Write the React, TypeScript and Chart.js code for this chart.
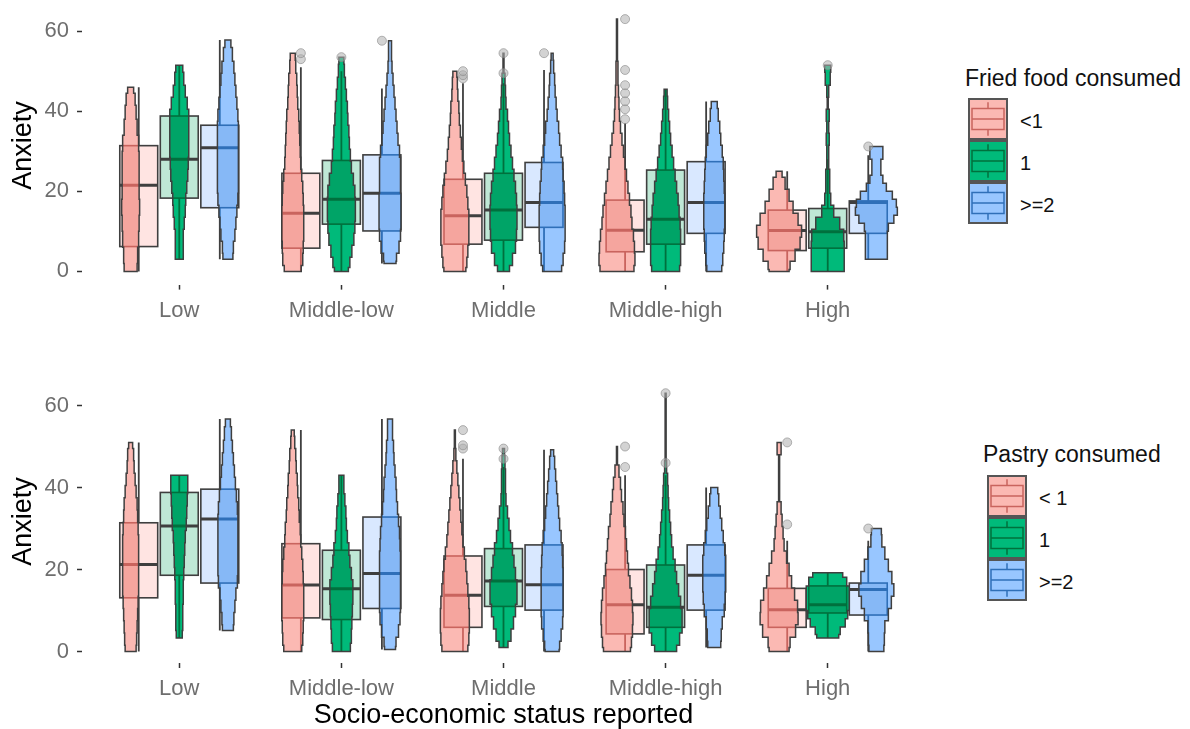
import React, { useEffect, useRef } from 'react';
import { Chart, registerables } from 'chart.js';
Chart.register(...registerables);

const FONT = '"Liberation Sans", Arial, sans-serif';
const TICK_COLOR = '#6e6e6e';
const EDGE = '#3f3f3f';

const categories = ['Low', 'Middle-low', 'Middle', 'Middle-high', 'High'];
const anxietyTicks = [0, 20, 40, 60];
const friedLevels = ['<1', '1', '>=2'];
const pastryLevels = ['< 1', '1', '>=2'];

// Box statistics per category: [lower whisker, Q1, median, Q3, upper whisker]
// Violins per category: [anxiety, density width]

// ---- Fried food consumed ----
const friedLt1Box = [
  [0, 6.2, 21.5, 31.4, 46],
  [0, 5.8, 14.5, 24.5, 51],
  [0, 6.8, 13.9, 23, 47],
  [0, 4.9, 10.3, 17.8, 37],
  [0, 5.2, 10.2, 15.3, 25],
];
const friedLt1Outliers = [[], [53, 54.5], [48.2, 49, 50], [38, 40.5, 42.5, 44.5, 46.5, 50.3, 63], []];
const friedLt1Violin = [
  [[0, 13], [4, 14], [8, 16], [12, 17], [16, 18], [20, 17], [24, 17], [28, 17], [32, 16], [36, 13], [40, 11], [43, 9], [46, 6]],
  [[0, 17], [3, 20], [6, 21], [9, 22], [12, 22], [15, 22], [18, 21], [21, 20], [24, 18], [27, 16], [30, 15], [33, 14], [36, 13], [39, 12], [42, 10], [45, 9], [48, 8], [51, 6], [54.5, 5]],
  [[0, 22], [2, 24], [5, 26], [8, 28], [11, 28], [14, 28], [17, 26], [20, 24], [23, 21], [26, 18], [29, 15], [32, 13], [35, 11], [38, 9], [41, 8], [44, 6], [47, 5], [50, 4]],
  [[0, 34], [3, 36], [6, 35], [9, 33], [12, 30], [15, 28], [18, 25], [21, 22], [24, 19], [27, 16], [30, 13], [33, 10], [36, 7], [39, 5], [42, 4], [45, 3], [48, 2], [51, 2], [54, 1], [57, 1], [60, 1], [63, 1]],
  [[0, 20], [1, 22], [4, 32], [7, 42], [10, 45], [13, 38], [16, 28], [19, 20], [22, 12], [25, 6]],
];

const friedOneBox = [
  [3, 18.3, 28, 38.8, 51.5],
  [0, 11.8, 18, 27.7, 50],
  [0, 7.8, 15.3, 24.5, 47],
  [0, 6.8, 13, 25.3, 45.5],
  [0, 5.8, 9.9, 15.7, 28],
];
const friedOneOutliers = [[], [53.5], [49.5, 54.5], [], [51.5]];
const friedOneViolin = [
  [[3, 8], [6, 8], [9, 8], [12, 10], [15, 12], [18, 13], [21, 15], [24, 17], [27, 18], [30, 19], [33, 19], [36, 19], [39, 19], [42, 16], [45, 12], [48, 9], [51.5, 7]],
  [[0, 14], [2, 17], [5, 21], [8, 25], [11, 27], [14, 28], [17, 28], [20, 27], [23, 24], [26, 20], [29, 18], [32, 16], [35, 15], [38, 13], [41, 12], [44, 10], [47, 8], [50, 6], [53.5, 5]],
  [[0, 12], [3, 18], [6, 24], [9, 26], [12, 27], [15, 27], [18, 26], [21, 24], [24, 21], [27, 18], [30, 15], [33, 12], [36, 10], [39, 8], [42, 5], [45, 4], [48, 3], [51, 1], [54.5, 1]],
  [[0, 28], [3, 30], [6, 30], [9, 30], [12, 29], [15, 27], [18, 25], [21, 22], [24, 19], [27, 16], [30, 13], [33, 10], [36, 8], [39, 6], [42, 4], [45.5, 3]],
  [[0, 33], [3, 33], [6, 33], [9, 32], [12, 24], [15, 12], [18, 6], [21, 4], [24, 4], [27, 2], [30, 2], [33, 3], [36, 2], [39, 3], [42, 1], [45, 2], [48, 5], [51.5, 6]],
];

const friedGe2Box = [
  [3, 15.9, 30.9, 36.5, 57.8],
  [2, 10.1, 19.5, 29.1, 45.7],
  [0, 11, 17.2, 27.2, 50.3],
  [0, 9.5, 17.2, 27.4, 42.4],
  [3, 9.5, 17.2, 17.6, 29],
];
const friedGe2Outliers = [[], [57.6], [54.5], [], [31.2]];
const friedGe2Violin = [
  [[3, 10], [6, 11], [9, 14], [12, 16], [15, 18], [18, 20], [21, 21], [24, 21], [27, 21], [30, 21], [33, 21], [36, 21], [39, 20], [42, 18], [45, 16], [48, 14], [51, 12], [54, 9], [57.8, 6]],
  [[2, 12], [3, 13], [6, 18], [9, 21], [12, 22], [15, 22], [18, 22], [21, 21], [24, 21], [27, 21], [30, 19], [33, 16], [36, 14], [39, 12], [42, 10], [45, 8], [48, 6], [51, 4], [54, 3], [57.6, 3]],
  [[0, 19], [3, 22], [6, 25], [9, 26], [12, 26], [15, 26], [18, 25], [21, 24], [24, 22], [27, 21], [30, 18], [33, 15], [36, 13], [39, 10], [42, 8], [45, 6], [48, 5], [51, 3], [54.5, 2]],
  [[0, 15], [3, 17], [6, 19], [9, 20], [12, 21], [15, 21], [18, 21], [21, 20], [24, 19], [27, 18], [30, 16], [33, 13], [36, 11], [39, 8], [42.4, 6]],
  [[3, 22], [5, 22], [7, 22], [9, 22], [11, 24], [13, 35], [15, 42], [17, 40], [19, 32], [21, 20], [23, 13], [25, 9], [27, 9], [29, 13], [31.2, 13]],
];

// ---- Pastry consumed ----
const pastryLt1Box = [
  [0, 13.1, 21.2, 31.4, 51],
  [0, 8.2, 16.2, 26.3, 54],
  [0, 5.9, 13.7, 23.3, 47],
  [0, 4.3, 11.4, 20, 43],
  [0, 5.9, 10.2, 15.4, 27],
];
const pastryLt1Outliers = [[], [], [49.5, 50.3, 54], [45, 50], [31, 51]];
const pastryLt1Violin = [
  [[0, 11], [3, 12], [6, 13], [9, 14], [12, 15], [15, 16], [18, 16], [21, 16], [24, 16], [27, 16], [30, 15], [33, 14], [36, 13], [39, 11], [42, 9], [45, 7], [48, 6], [51, 4]],
  [[0, 18], [3, 20], [6, 21], [9, 22], [12, 22], [15, 22], [18, 21], [21, 20], [24, 18], [27, 16], [30, 15], [33, 13], [36, 12], [39, 10], [42, 9], [45, 7], [48, 6], [51, 4], [54, 3]],
  [[0, 26], [3, 28], [6, 29], [9, 29], [12, 28], [15, 26], [18, 24], [21, 22], [24, 19], [27, 16], [30, 14], [33, 12], [36, 10], [39, 8], [42, 6], [45, 4], [48, 2], [51, 1], [54, 1]],
  [[0, 27], [2, 29], [5, 31], [8, 32], [11, 31], [14, 29], [17, 26], [20, 23], [23, 21], [26, 19], [29, 17], [32, 14], [35, 12], [38, 9], [41, 7], [44, 4], [47, 1], [50, 1]],
  [[0, 20], [2, 22], [5, 33], [8, 38], [11, 37], [14, 31], [17, 25], [20, 20], [23, 15], [26, 10], [29, 8], [32, 6], [35, 4], [38, 1], [41, 1], [44, 1], [47, 1], [49, 4], [51, 4]],
];

const pastryOneBox = [
  [3.3, 18.6, 30.6, 38.8, 43],
  [0, 7.8, 15.3, 24.7, 43],
  [1, 11, 17.2, 25.1, 45],
  [0, 5.9, 10.8, 21.1, 43],
  [3.3, 9.4, 11.4, 16, 19.2],
];
const pastryOneOutliers = [[], [], [47, 49.5], [46, 63], []];
const pastryOneViolin = [
  [[3.3, 6], [7, 7], [10, 7], [13, 8], [16, 8], [19, 9], [22, 10], [25, 11], [28, 12], [31, 14], [34, 15], [37, 16], [40, 17], [43, 17]],
  [[0, 18], [4, 20], [7, 21], [10, 22], [13, 23], [16, 23], [19, 20], [22, 17], [25, 15], [28, 12], [31, 10], [34, 9], [37, 7], [40, 5], [43, 5]],
  [[1, 9], [4, 15], [7, 20], [10, 24], [13, 27], [16, 27], [19, 24], [22, 21], [25, 18], [28, 14], [31, 11], [34, 8], [37, 5], [40, 4], [43, 4], [46, 3], [49.5, 2]],
  [[0, 22], [3, 28], [6, 33], [9, 33], [12, 30], [15, 26], [18, 22], [21, 19], [24, 15], [27, 12], [30, 10], [33, 8], [36, 6], [39, 5], [42, 4], [45, 2], [48, 1], [51, 1], [54, 1], [57, 1], [60, 1], [63, 1]],
  [[3.3, 22], [5, 25], [7, 35], [9, 40], [11, 43], [13, 43], [15, 43], [17, 38], [19.2, 30]],
];

const pastryGe2Box = [
  [5.1, 16.7, 32.3, 39.6, 56.7],
  [0.5, 10.5, 19, 32.8, 56.7],
  [0, 10.1, 16.3, 26, 49.2],
  [1, 10.1, 18.6, 26, 40],
  [0, 8.9, 15.1, 16.7, 27],
];
const pastryGe2Outliers = [[], [], [], [], [30]];
const pastryGe2Violin = [
  [[5.1, 11], [8, 12], [11, 14], [14, 16], [17, 19], [20, 20], [23, 20], [26, 20], [29, 20], [32, 20], [35, 19], [38, 17], [41, 15], [44, 13], [47, 11], [50, 9], [53, 7], [56.7, 5]],
  [[0.5, 11], [2, 12], [5, 17], [8, 20], [11, 21], [14, 21], [17, 21], [20, 21], [23, 21], [26, 20], [29, 19], [32, 17], [35, 15], [38, 13], [41, 12], [44, 10], [47, 8], [50, 7], [53, 5], [56.7, 5]],
  [[0, 14], [1, 15], [4, 18], [7, 21], [10, 22], [13, 22], [16, 22], [19, 22], [22, 21], [25, 20], [28, 18], [31, 15], [34, 13], [37, 11], [40, 9], [43, 7], [46, 5], [49.2, 3]],
  [[1, 13], [4, 14], [7, 16], [10, 20], [13, 22], [16, 23], [19, 23], [22, 23], [25, 21], [28, 18], [31, 15], [34, 12], [37, 9], [40, 7]],
  [[0, 15], [3, 16], [6, 17], [9, 24], [12, 30], [15, 35], [18, 31], [21, 24], [24, 17], [27, 11], [30, 10]],
];

type Series = { box: number[][]; out: number[][]; violin: number[][][] };

const friedSeries: Series[] = [
  { box: friedLt1Box, out: friedLt1Outliers, violin: friedLt1Violin },
  { box: friedOneBox, out: friedOneOutliers, violin: friedOneViolin },
  { box: friedGe2Box, out: friedGe2Outliers, violin: friedGe2Violin },
];
const pastrySeries: Series[] = [
  { box: pastryLt1Box, out: pastryLt1Outliers, violin: pastryLt1Violin },
  { box: pastryOneBox, out: pastryOneOutliers, violin: pastryOneViolin },
  { box: pastryGe2Box, out: pastryGe2Outliers, violin: pastryGe2Violin },
];

const STYLES = [
  { violin: '#fbb9b3', inBox: '#f5a59e', boxFill: '#ffe4e2', tint: '#c9645e' },
  { violin: '#00ba7a', inBox: '#00a467', boxFill: '#bfe8d6', tint: '#00703d' },
  { violin: '#98c6ff', inBox: '#86b8f6', boxFill: '#d9e8ff', tint: '#2f6fb8' },
];

const BOX_OFFSET = [-0.25, 0, 0.25];
const VIOLIN_OFFSET = [-0.3, 0, 0.3];
const BOX_HALF = 0.117;
const DENSITY_PER_CAT = 162.3;

function boxGeom(xs: any, ys: any, xc: number, b: number[]) {
  return {
    l: xs.getPixelForValue(xc - BOX_HALF),
    r: xs.getPixelForValue(xc + BOX_HALF),
    c: xs.getPixelForValue(xc),
    lo: ys.getPixelForValue(b[0]),
    q1: ys.getPixelForValue(b[1]),
    med: ys.getPixelForValue(b[2]),
    q3: ys.getPixelForValue(b[3]),
    hi: ys.getPixelForValue(b[4]),
  };
}

function strokeBox(ctx: CanvasRenderingContext2D, g: any, color: string) {
  ctx.strokeStyle = color;
  ctx.lineWidth = 1.6;
  ctx.strokeRect(g.l, g.q3, g.r - g.l, g.q1 - g.q3);
  ctx.beginPath();
  ctx.moveTo(g.c, g.q3);
  ctx.lineTo(g.c, g.hi);
  ctx.moveTo(g.c, g.q1);
  ctx.lineTo(g.c, g.lo);
  ctx.lineWidth = 1.8;
  ctx.stroke();
  ctx.beginPath();
  ctx.moveTo(g.l, g.med);
  ctx.lineTo(g.r, g.med);
  ctx.lineWidth = 3;
  ctx.stroke();
}

function violinPath(ctx: CanvasRenderingContext2D, xs: any, ys: any, xc: number, pts: number[][]) {
  const s = [...pts].sort((a, b) => a[0] - b[0]);
  const n = s.length;
  const bands = s.map((p, i) => ({
    lo: i === 0 ? p[0] : (s[i - 1][0] + p[0]) / 2,
    hi: i === n - 1 ? p[0] : (p[0] + s[i + 1][0]) / 2,
    hw: p[1] / 2 / DENSITY_PER_CAT,
  }));
  ctx.beginPath();
  ctx.moveTo(xs.getPixelForValue(xc - bands[0].hw), ys.getPixelForValue(bands[0].lo));
  bands.forEach((b) => {
    const x = xs.getPixelForValue(xc + b.hw);
    ctx.lineTo(x, ys.getPixelForValue(b.lo));
    ctx.lineTo(x, ys.getPixelForValue(b.hi));
  });
  for (let i = n - 1; i >= 0; i--) {
    const b = bands[i];
    const x = xs.getPixelForValue(xc - b.hw);
    ctx.lineTo(x, ys.getPixelForValue(b.hi));
    ctx.lineTo(x, ys.getPixelForValue(b.lo));
  }
  ctx.closePath();
}

const raincloud = (series: Series[]) => ({
  id: 'raincloud',
  beforeDatasetsDraw(chart: any) {
    const ctx: CanvasRenderingContext2D = chart.ctx;
    const xs = chart.scales.x;
    const ys = chart.scales.y;
    ctx.save();
    ctx.lineJoin = 'miter';
    series.forEach((s, si) =>
      s.box.forEach((b, ci) => {
        const g = boxGeom(xs, ys, ci + 1 + BOX_OFFSET[si], b);
        ctx.fillStyle = STYLES[si].boxFill;
        ctx.fillRect(g.l, g.q3, g.r - g.l, g.q1 - g.q3);
        strokeBox(ctx, g, EDGE);
      })
    );
    series.forEach((s, si) =>
      s.violin.forEach((pts, ci) => {
        const st = STYLES[si];
        const vx = ci + 1 + VIOLIN_OFFSET[si];
        const g = boxGeom(xs, ys, ci + 1 + BOX_OFFSET[si], s.box[ci]);
        violinPath(ctx, xs, ys, vx, pts);
        ctx.fillStyle = st.violin;
        ctx.fill();
        ctx.save();
        ctx.clip();
        ctx.fillStyle = st.inBox;
        ctx.fillRect(g.l, g.q3, g.r - g.l, g.q1 - g.q3);
        strokeBox(ctx, g, st.tint);
        ctx.restore();
        violinPath(ctx, xs, ys, vx, pts);
        ctx.strokeStyle = EDGE;
        ctx.lineWidth = 1.5;
        ctx.stroke();
      })
    );
    ctx.restore();
  },
});

type PanelProps = {
  series: Series[];
  top: number;
  height: number;
  yMin: number;
  yMax: number;
  padTop: number;
  xAxisHeight: number;
  xTitle?: string;
};

function Panel({ series, top, height, yMin, yMax, padTop, xAxisHeight, xTitle }: PanelProps) {
  const ref = useRef<HTMLCanvasElement>(null);
  useEffect(() => {
    const chart = new Chart(ref.current as HTMLCanvasElement, {
      type: 'scatter',
      data: {
        datasets: series.map((s, si) => ({
          data: s.out.flatMap((vals, ci) => vals.map((v) => ({ x: ci + 1 + BOX_OFFSET[si], y: v }))),
          pointRadius: 4.5,
          pointBackgroundColor: 'rgba(175,175,175,0.55)',
          pointBorderColor: 'rgba(135,135,135,0.6)',
          pointBorderWidth: 1,
        })),
      },
      options: {
        animation: false,
        responsive: true,
        maintainAspectRatio: false,
        layout: { padding: { top: padTop, right: 15, left: 0, bottom: 0 } },
        plugins: { legend: { display: false }, tooltip: { enabled: false } },
        scales: {
          x: {
            type: 'linear',
            min: 0.4,
            max: 5.6,
            afterBuildTicks: (s: any) => {
              s.ticks = categories.map((_, i) => ({ value: i + 1 }));
            },
            afterFit: (s: any) => {
              s.height = xAxisHeight;
              s.paddingLeft = 0;
              s.paddingRight = 0;
            },
            ticks: {
              callback: (v: any) => categories[Math.round(Number(v)) - 1] ?? '',
              font: { family: FONT, size: 22 },
              color: TICK_COLOR,
              padding: 8,
              autoSkip: false,
              maxRotation: 0,
            },
            grid: { drawOnChartArea: false, drawTicks: true, tickLength: 5, tickColor: '#333', tickWidth: 1.5 },
            border: { display: false },
            title: xTitle
              ? { display: true, text: xTitle, font: { family: FONT, size: 27, lineHeight: 1 }, color: '#000', padding: { top: 0, bottom: 0 } }
              : { display: false },
          },
          y: {
            type: 'linear',
            min: yMin,
            max: yMax,
            afterBuildTicks: (s: any) => {
              s.ticks = anxietyTicks.map((v) => ({ value: v }));
            },
            afterFit: (s: any) => {
              s.width = 82;
              s.paddingTop = 0;
              s.paddingBottom = 0;
            },
            ticks: { font: { family: FONT, size: 22 }, color: TICK_COLOR, padding: 8 },
            grid: { drawOnChartArea: false, drawTicks: true, tickLength: 5, tickColor: '#333', tickWidth: 1.5 },
            border: { display: false },
            title: { display: true, text: 'Anxiety', font: { family: FONT, size: 27 }, color: '#000', padding: { top: 7, bottom: 0 } },
          },
        },
      } as any,
      plugins: [raincloud(series)],
    });
    return () => chart.destroy();
  }, []);
  return (
    <div style={{ position: 'absolute', left: 0, top, width: 940, height }}>
      <canvas ref={ref} />
    </div>
  );
}

type LegendProps = { title: string; labels: string[]; titleLeft: number; titleCenter: number; keyLeft: number; keyTop: number };

function Legend({ title, labels, titleLeft, titleCenter, keyLeft, keyTop }: LegendProps) {
  const KW = 40;
  const KH = 42;
  return (
    <>
      <div
        style={{
          position: 'absolute',
          left: titleLeft,
          top: titleCenter - 14,
          height: 28,
          lineHeight: '28px',
          fontFamily: FONT,
          fontSize: 23,
          color: '#111',
          whiteSpace: 'nowrap',
        }}
      >
        {title}
      </div>
      <svg style={{ position: 'absolute', left: keyLeft, top: keyTop }} width={KW} height={KH * labels.length}>
        {labels.map((_, i) => {
          const st = STYLES[i];
          const y0 = i * KH;
          return (
            <g key={i}>
              <rect x={1} y={y0 + 1} width={KW - 2} height={KH - 2} fill={st.violin} stroke="#555" strokeWidth={2} />
              <rect x={KW * 0.1} y={y0 + KH * 0.25} width={KW * 0.8} height={KH * 0.5} fill="none" stroke={st.tint} strokeWidth={1.5} />
              <line x1={KW * 0.1} x2={KW * 0.9} y1={y0 + KH * 0.5} y2={y0 + KH * 0.5} stroke={st.tint} strokeWidth={1.5} />
              <line x1={KW / 2} x2={KW / 2} y1={y0 + KH * 0.1} y2={y0 + KH * 0.25} stroke={st.tint} strokeWidth={1.5} />
              <line x1={KW / 2} x2={KW / 2} y1={y0 + KH * 0.75} y2={y0 + KH * 0.9} stroke={st.tint} strokeWidth={1.5} />
            </g>
          );
        })}
      </svg>
      {labels.map((lab, i) => (
        <div
          key={lab + i}
          style={{
            position: 'absolute',
            left: keyLeft + KW + 12,
            top: keyTop + i * KH + 2,
            height: KH,
            lineHeight: KH + 'px',
            fontFamily: FONT,
            fontSize: 20,
            color: '#111',
            whiteSpace: 'nowrap',
          }}
        >
          {lab}
        </div>
      ))}
    </>
  );
}

export default function App() {
  return (
    <div style={{ position: 'absolute', left: 0, top: 0, width: 1190, height: 729, background: '#fff', overflow: 'hidden' }}>
      <Panel series={friedSeries} top={0} height={330} yMin={-3.3} yMax={66.2} padTop={6.3} xAxisHeight={45.4} />
      <Panel
        series={pastrySeries}
        top={330}
        height={399}
        yMin={-2.8}
        yMax={66.2}
        padTop={50.1}
        xAxisHeight={66}
        xTitle="Socio-economic status reported"
      />
      <Legend title="Fried food consumed" labels={friedLevels} titleLeft={965} titleCenter={78} keyLeft={968} keyTop={98} />
      <Legend title="Pastry consumed" labels={pastryLevels} titleLeft={983} titleCenter={454} keyLeft={987} keyTop={475} />
    </div>
  );
}
